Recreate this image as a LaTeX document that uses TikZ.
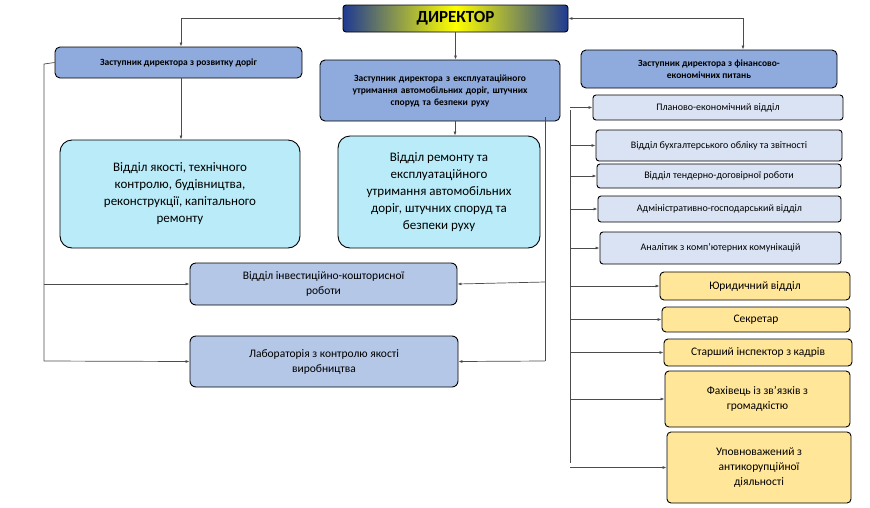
\documentclass[tikz,border=0pt]{standalone}
\usepackage{fontspec}
\setmainfont{Carlito}
\usetikzlibrary{arrows.meta}
\definecolor{dep}{HTML}{8FAADC}
\definecolor{cyanb}{HTML}{B9ECF8}
\definecolor{lbl}{HTML}{DAE3F3}
\definecolor{mbl}{HTML}{B4C7E7}
\definecolor{yel}{HTML}{FFE699}
\definecolor{dkb}{HTML}{1F3A93}
\begin{document}
\begin{tikzpicture}[x=1pt,y=-1pt,
 box/.style={draw=black,line width=0.9pt,rounded corners=5pt,align=center,inner sep=1pt},
 line/.style={draw=black!70,line width=0.7pt},
 arr/.style={line,-{Latex[length=4pt,width=3pt]}}]
\useasboundingbox (0,0) rectangle (870,507);
\newcommand{\bx}[7]{\node[box,fill=#6,minimum width=#3-#1,minimum height=#4-#2,font=#7] (#5) at ({(#1+#3)/2},{(#2+#4)/2}) {};}
% director
\node[draw=black,line width=0.9pt,rounded corners=3pt,minimum width=225,minimum height=27,
 left color=dkb,right color=dkb,middle color=yellow,font=\bfseries\fontsize{17}{18}\selectfont] (dir) at (455.5,18.5) {ДИРЕКТОР};
\node[box,fill=dep,minimum width=247,minimum height=31,font=\bfseries\fontsize{9.5}{12}\selectfont] (d1) at (178.5,62.5) {Заступник директора з розвитку доріг};
\node[box,fill=dep,minimum width=240,minimum height=61,text width=236,font=\bfseries\fontsize{9.5}{12}\selectfont] (d2) at (440,90.5) {Заступник директора з експлуатаційного\\ утримання автомобільних доріг, штучних\\ споруд та безпеки руху};
\node[box,fill=dep,minimum width=256,minimum height=38,font=\bfseries\fontsize{9.5}{12}\selectfont] (d3) at (709,69) {Заступник директора з фінансово-\\економічних питань};
\node[box,fill=cyanb,rounded corners=12pt,minimum width=240,minimum height=108,font=\fontsize{13}{17}\selectfont] (q) at (180,194) {Відділ якості, технічного\\контролю, будівництва,\\реконструкції, капітального\\ремонту};
\node[box,fill=cyanb,rounded corners=12pt,minimum width=202,minimum height=112,font=\fontsize{13}{17}\selectfont] (r) at (439,192) {Відділ ремонту та\\експлуатаційного\\утримання автомобільних\\доріг, штучних споруд та\\безпеки руху};
\tikzset{sm/.style={box,fill=lbl,rounded corners=3pt,font=\fontsize{10}{12}\selectfont}}
\node[sm,minimum width=250,minimum height=25] (p1) at (718,107.5) {Планово-економічний відділ};
\node[sm,minimum width=246,minimum height=31] (p2) at (719,145.5) {Відділ бухгалтерського обліку та звітності};
\node[sm,minimum width=244,minimum height=24] (p3) at (719,176) {Відділ тендерно-договірної роботи};
\node[sm,minimum width=243,minimum height=26] (p4) at (719.5,209) {Адміністративно-господарський відділ};
\node[sm,minimum width=241,minimum height=32] (p5) at (720.5,248) {Аналітик з комп’ютерних комунікацій};
\tikzset{mb/.style={box,fill=mbl,rounded corners=6pt,font=\fontsize{11.5}{15}\selectfont}}
\node[mb,minimum width=267,minimum height=42] (inv) at (323.5,284) {Відділ інвестиційно-кошторисної\\роботи};
\node[mb,minimum width=268,minimum height=51] (lab) at (324,361.5) {Лабораторія з контролю якості\\виробництва};
\tikzset{yb/.style={box,fill=yel,rounded corners=4pt,font=\fontsize{11.5}{15}\selectfont}}
\node[yb,minimum width=190,minimum height=28] (y1) at (755,286) {Юридичний відділ};
\node[yb,minimum width=188,minimum height=25] (y2) at (756,319.5) {Секретар};
\node[yb,minimum width=188,minimum height=27] (y3) at (758,352.5) {Старший інспектор з кадрів};
\node[yb,minimum width=185,minimum height=56] (y4) at (757.5,399) {Фахівець із зв’язків з\\громадкістю};
\node[yb,minimum width=184,minimum height=71] (y5) at (759,467.5) {Уповноважений з\\антикорупційної\\діяльності};
% connectors
\draw[arr,{Latex[length=4pt,width=3pt]}-{Latex[length=4pt,width=3pt]}] (dir.west) -| (d1.north -| 181,0);
\draw[arr,{Latex[length=4pt,width=3pt]}-{Latex[length=4pt,width=3pt]}] (dir.east) -| (d3.north -| 743,0);
\draw[arr] (dir.south) -- (d2.north -| dir.south);
\draw[arr] (d1.south -| 181,0) -- (q.north -| 181,0);
\draw[arr] (d2.south -| 455,0) -- (r.north -| 455,0);
\coordinate (lt) at (44,64);
\coordinate (lb) at (44,361);
\draw[line] (d1.west) -- (lt) -- (lb);
\draw[arr] (44,284) -- (inv.west);
\draw[arr] (lb) -- (lab.west);
\coordinate (ct) at (545,117);
\draw[line] (ct) -- (545,361);
\draw[arr] (545,282) -- (inv.east);
\draw[arr] (545,361) -- (lab.east);
\coordinate (rt) at (570,110);
\draw[line] (rt) -- (570,463);
\foreach \n in {p1,p2,p3,p4,p5,y1,y2,y3,y4,y5}{\draw[arr] (570,0 |- \n.west) -- (\n.west);}
\end{tikzpicture}
\end{document}
